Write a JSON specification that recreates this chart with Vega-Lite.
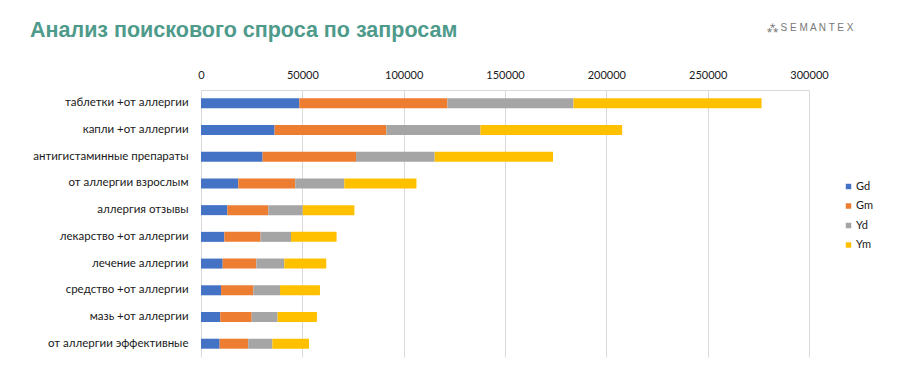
{
  "$schema": "https://vega.github.io/schema/vega-lite/v6.json",
  "width": 608,
  "height": 267,
  "autosize": {"type": "none"},
  "padding": {"left": 201, "top": 90, "right": 90, "bottom": 19},
  "background": "white",
  "title": {
    "text": "Анализ поискового спроса по запросам",
    "anchor": "start",
    "frame": "group",
    "orient": "top",
    "font": "Liberation Sans",
    "fontSize": 21.5,
    "fontWeight": "bold",
    "color": "#4E9A8B",
    "dx": -171,
    "dy": 19,
    "offset": 0
  },
  "data": {
    "values": [
      {"q": "таблетки +от аллергии", "s": "Gd", "v": 48500},
      {"q": "таблетки +от аллергии", "s": "Gm", "v": 73100},
      {"q": "таблетки +от аллергии", "s": "Yd", "v": 62200},
      {"q": "таблетки +от аллергии", "s": "Ym", "v": 92800},
      {"q": "капли +от аллергии", "s": "Gd", "v": 36300},
      {"q": "капли +от аллергии", "s": "Gm", "v": 55200},
      {"q": "капли +от аллергии", "s": "Yd", "v": 46400},
      {"q": "капли +от аллергии", "s": "Ym", "v": 69900},
      {"q": "антигистаминные препараты", "s": "Gd", "v": 30400},
      {"q": "антигистаминные препараты", "s": "Gm", "v": 46100},
      {"q": "антигистаминные препараты", "s": "Yd", "v": 38800},
      {"q": "антигистаминные препараты", "s": "Ym", "v": 58400},
      {"q": "от аллергии взрослым", "s": "Gd", "v": 18400},
      {"q": "от аллергии взрослым", "s": "Gm", "v": 28100},
      {"q": "от аллергии взрослым", "s": "Yd", "v": 24200},
      {"q": "от аллергии взрослым", "s": "Ym", "v": 35600},
      {"q": "аллергия отзывы", "s": "Gd", "v": 13000},
      {"q": "аллергия отзывы", "s": "Gm", "v": 20200},
      {"q": "аллергия отзывы", "s": "Yd", "v": 17000},
      {"q": "аллергия отзывы", "s": "Ym", "v": 25500},
      {"q": "лекарство +от аллергии", "s": "Gd", "v": 11500},
      {"q": "лекарство +от аллергии", "s": "Gm", "v": 17900},
      {"q": "лекарство +от аллергии", "s": "Yd", "v": 15000},
      {"q": "лекарство +от аллергии", "s": "Ym", "v": 22500},
      {"q": "лечение аллергии", "s": "Gd", "v": 10700},
      {"q": "лечение аллергии", "s": "Gm", "v": 16600},
      {"q": "лечение аллергии", "s": "Yd", "v": 13800},
      {"q": "лечение аллергии", "s": "Ym", "v": 20700},
      {"q": "средство +от аллергии", "s": "Gd", "v": 9900},
      {"q": "средство +от аллергии", "s": "Gm", "v": 15900},
      {"q": "средство +от аллергии", "s": "Yd", "v": 13200},
      {"q": "средство +от аллергии", "s": "Ym", "v": 19700},
      {"q": "мазь +от аллергии", "s": "Gd", "v": 9500},
      {"q": "мазь +от аллергии", "s": "Gm", "v": 15500},
      {"q": "мазь +от аллергии", "s": "Yd", "v": 12800},
      {"q": "мазь +от аллергии", "s": "Ym", "v": 19400},
      {"q": "от аллергии эффективные", "s": "Gd", "v": 9200},
      {"q": "от аллергии эффективные", "s": "Gm", "v": 14100},
      {"q": "от аллергии эффективные", "s": "Yd", "v": 11900},
      {"q": "от аллергии эффективные", "s": "Ym", "v": 18100}
    ]
  },
  "mark": {"type": "bar", "size": 10},
  "encoding": {
    "y": {
      "field": "q",
      "type": "nominal",
      "sort": null,
      "scale": {"paddingInner": 0.625, "paddingOuter": 0.31},
      "axis": {
        "title": null,
        "domain": false,
        "ticks": false,
        "labelFont": "Lato",
        "labelFontSize": 11.5,
        "labelColor": "#1a1a1a",
        "labelPadding": 13,
        "labelLimit": 300
      }
    },
    "x": {
      "field": "v",
      "type": "quantitative",
      "stack": "zero",
      "scale": {"domain": [0, 300000], "nice": false},
      "axis": {
        "orient": "top",
        "values": [0, 50000, 100000, 150000, 200000, 250000, 300000],
        "format": "d",
        "title": "⁂  S E M A N T E X",
        "titleFont": "Liberation Sans",
        "titleFontSize": 10,
        "titleFontWeight": "normal",
        "titleColor": "#777777",
        "titleAnchor": "end",
        "titleAlign": "right",
        "titleX": 652,
        "titleY": -58,
        "domainColor": "#d9d9d9",
        "gridColor": "#d9d9d9",
        "ticks": false,
        "labelFont": "Lato",
        "labelFontSize": 11,
        "labelColor": "#1a1a1a",
        "labelPadding": 10,
        "labelFlush": false
      }
    },
    "color": {
      "field": "s",
      "type": "nominal",
      "scale": {"domain": ["Gd", "Gm", "Yd", "Ym"], "range": ["#4472C4", "#ED7D31", "#A5A5A5", "#FFC000"]},
      "legend": {
        "title": null,
        "orient": "none",
        "legendX": 642,
        "legendY": 91,
        "symbolType": "square",
        "symbolSize": 30,
        "symbolStrokeWidth": 0,
        "labelFont": "Lato",
        "labelFontSize": 11,
        "labelColor": "#1a1a1a",
        "labelOffset": 2,
        "rowPadding": 7.5
      }
    },
    "order": {"field": "s", "sort": "ascending"}
  },
  "config": {"view": {"stroke": null}}
}
